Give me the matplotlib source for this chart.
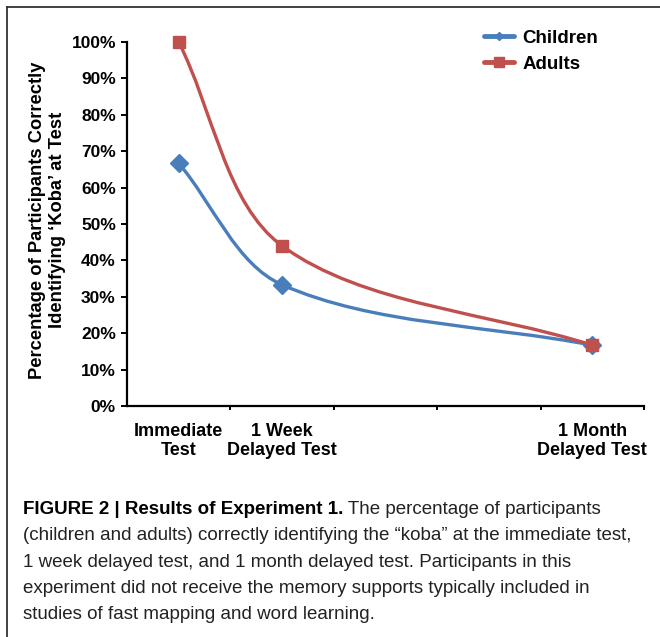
import matplotlib
matplotlib.use('Agg')
import matplotlib.pyplot as plt
from matplotlib.path import Path
from matplotlib.patches import PathPatch
from matplotlib.lines import Line2D
from matplotlib.ticker import FuncFormatter
from matplotlib import font_manager
import numpy as np

categories = ['Immediate\nTest', '1 Week\nDelayed Test', '', '', '1 Month\nDelayed Test']
cat_index = [0, 1, 4]
children = [0.667, 0.333, 0.167]
adults = [1.0, 0.44, 0.167]
y_ticks = [0, 0.1, 0.2, 0.3, 0.4, 0.5, 0.6, 0.7, 0.8, 0.9, 1.0]
y_label = 'Percentage of Participants Correctly\nIdentifying \u2018Koba\u2019 at Test'
cap_bold = 'FIGURE 2 | Results of Experiment 1.'
cap_lines = [
    ' The percentage of participants',
    '(children and adults) correctly identifying the \u201ckoba\u201d at the immediate test,',
    '1 week delayed test, and 1 month delayed test. Participants in this',
    'experiment did not receive the memory supports typically included in',
    'studies of fast mapping and word learning.',
]

BLUE = '#4a7ebb'
RED = '#c0504d'

names = {f.name for f in font_manager.fontManager.ttflist}
cap_font = 'Liberation Sans Narrow' if 'Liberation Sans Narrow' in names else 'Liberation Sans'
plt.rcParams['font.family'] = ['Liberation Sans', 'DejaVu Sans']

W, H = 660, 637
fig = plt.figure(figsize=(W / 100, H / 100), dpi=100)
ax = fig.add_axes([127 / W, 1 - 406 / H, (644 - 127) / W, (406 - 42) / H])
ax.set_xlim(0, 5)
ax.set_ylim(0, 1)

for s in ['top', 'right']:
    ax.spines[s].set_visible(False)
for s in ['left', 'bottom']:
    ax.spines[s].set_linewidth(1.6)

ax.set_yticks(y_ticks)
ax.yaxis.set_major_formatter(FuncFormatter(lambda v, p: '{:.0f}%'.format(v * 100)))
ax.tick_params(axis='y', direction='out', length=4, width=1.4, pad=4, labelsize=12.5)
for lab in ax.get_yticklabels():
    lab.set_fontweight('bold')

ax.set_xticks(range(1, 6))
ax.set_xticklabels([])
ax.tick_params(axis='x', which='major', direction='out', length=3, width=1.4)
ax.set_xticks([i + 0.5 for i in range(5)], minor=True)
ax.set_xticklabels(categories, minor=True, fontsize=13, fontweight='bold',
                   linespacing=1.2)
ax.tick_params(axis='x', which='minor', length=0, pad=12)

ax.set_ylabel(y_label, fontsize=13.2, fontweight='bold', linespacing=1.2)
ax.yaxis.set_label_coords(-0.118, 0.51)


def smooth(xs, ys, color):
    # Excel-like smoothed line: bezier with tangents scaled by segment lengths
    pts = ax.transData.transform(np.column_stack([xs, ys]))
    n = len(pts)
    verts = [pts[0]]
    codes = [Path.MOVETO]
    tang = []
    for i in range(n):
        p0 = pts[max(i - 1, 0)]
        p2 = pts[min(i + 1, n - 1)]
        tang.append(p2 - p0)
    for i in range(n - 1):
        p1 = pts[i]
        p2 = pts[i + 1]
        if i == 0:
            c1 = p1 + (p2 - p1) / 3.0
        else:
            d0 = np.hypot(*(p1 - pts[i - 1]))
            d1 = np.hypot(*(p2 - p1))
            c1 = p1 + tang[i] * d1 / (d0 + d1) / 3.0
        if i + 1 == n - 1:
            c2 = p2 - (p2 - p1) / 3.0
        else:
            d1 = np.hypot(*(p2 - p1))
            d2 = np.hypot(*(pts[i + 2] - p2))
            c2 = p2 - tang[i + 1] * d1 / (d1 + d2) / 3.0
        verts += [c1, c2, p2]
        codes += [Path.CURVE4] * 3
    patch = PathPatch(Path(verts, codes), transform=None, facecolor='none',
                      edgecolor=color, lw=2.4, capstyle='round', zorder=3)
    ax.add_artist(patch)


xs = [i + 0.5 for i in cat_index]
smooth(xs, children, BLUE)
smooth(xs, adults, RED)
ax.plot(xs, children, linestyle='none', marker='D', ms=9.5, color=BLUE, zorder=4,
        clip_on=False)
ax.plot(xs, adults, linestyle='none', marker='s', ms=8, color=RED, zorder=5,
        clip_on=False)

handles = [Line2D([], [], color=BLUE, lw=3.5, marker='D', ms=4, solid_capstyle='round'),
           Line2D([], [], color=RED, lw=3.5, marker='s', ms=7, solid_capstyle='round')]
fig.legend(handles, ['Children', 'Adults'], loc='upper left',
           bbox_to_anchor=(467 / W, 1 - 13 / H), frameon=False,
           prop={'weight': 'bold', 'size': 13.5}, handlelength=1.6,
           handletextpad=0.45, labelspacing=0.45)

# caption
fig.canvas.draw()
renderer = fig.canvas.get_renderer()
cap_size = 13.5
t = fig.text(23 / W, 1 - 509 / H, cap_bold, fontsize=cap_size, fontweight='bold',
             family=cap_font, va='center', ha='left')
bb = t.get_window_extent(renderer)
fig.text(bb.x1 / W, 1 - 509 / H, cap_lines[0], fontsize=cap_size, family=cap_font,
         va='center', ha='left', color='#222222')
for k, line in enumerate(cap_lines[1:]):
    fig.text(23 / W, 1 - (536 + 26.3 * k) / H, line, fontsize=cap_size, family=cap_font,
             va='center', ha='left', color='#222222')

# frame
fig.add_artist(Line2D([7 / W, 7 / W], [0, 1 - 7 / H], color='#333333', lw=1.3))
fig.add_artist(Line2D([7 / W, 1], [1 - 7 / H, 1 - 7 / H], color='#333333', lw=1.3))

fig.savefig('out.png', dpi=100)
